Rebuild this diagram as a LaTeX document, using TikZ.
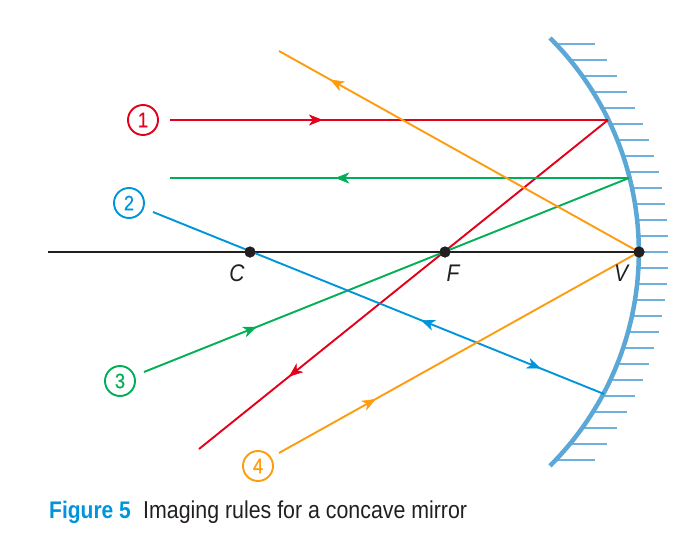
\documentclass[tikz,border=0pt]{standalone}
\usepackage{fontspec}
\setmainfont{Liberation Sans}[FakeStretch=0.875]
\usetikzlibrary{arrows.meta,decorations.markings}
\definecolor{rayred}{HTML}{E2001A}
\definecolor{rayblue}{HTML}{0095DA}
\definecolor{raygreen}{HTML}{00AE55}
\definecolor{rayorange}{HTML}{FD9C10}
\definecolor{mirrorblue}{HTML}{5BA7D6}
\definecolor{hashblue}{HTML}{6DB1DC}
\definecolor{inkblack}{HTML}{231F20}
\tikzset{
  ray/.style={line width=1.9pt},
  tipat/.style={postaction={decorate,decoration={markings,mark=at position #1 with {\arrow[line width=0.6pt]{Stealth[length=14pt,width=11pt,inset=4pt]}}}}},
  backtipat/.style={postaction={decorate,decoration={markings,mark=at position #1 with {\arrowreversed[line width=0.6pt]{Stealth[length=14pt,width=11pt,inset=4pt]}}}}},
  numcircle/.style={circle,draw,line width=1.9pt,minimum size=30pt,inner sep=0pt,font=\fontsize{21}{21}\selectfont\addfontfeatures{FakeBold=0.5}},
  ptdot/.style={circle,fill=inkblack,minimum size=11pt,inner sep=0pt},
  ptlabel/.style={text=inkblack,inner sep=0pt,font=\fontsize{24}{24}\selectfont\itshape},
  hash/.style={hashblue,line width=1.5pt},
  caption/.style={inner sep=0pt,anchor=base west}
}
\begin{document}
\begin{tikzpicture}[x=1pt,y=-1pt]
\useasboundingbox (0,0) rectangle (683,546);
% numbered labels
\node[numcircle,rayred,text=rayred] (n1) at (143,120) {1};
\node[numcircle,rayblue,text=rayblue] (n2) at (129,203) {2};
\node[numcircle,raygreen,text=raygreen] (n3) at (120,381) {3};
\node[numcircle,rayorange,text=rayorange] (n4) at (258,466) {4};
% free ends and mirror points
\coordinate (r1a) at (170,120);
\coordinate (r1b) at (608,120);
\coordinate (r1c) at (199,449);
\coordinate (g1a) at (144,372);
\coordinate (g1b) at (629,178);
\coordinate (g1c) at (170,178);
\coordinate (b1a) at (153,212);
\coordinate (b1b) at (604,394);
\coordinate (o1a) at (279,453);
\coordinate (o1c) at (279,51);
\coordinate (axisL) at (48,252);
\coordinate (Mtop) at (550,38);
% hash marks
\foreach \dy/\xr in {0/668,16/668,32/667,48/665,64/662,80/658.5,96/654,112/648.5,128/642.5,144/635,160/627,176/617,192/606.5,208/594.7}{
  \pgfmathsetmacro{\xl}{337+302*sqrt(1-(\dy/302)*(\dy/302))}
  \draw[hash] (\xl,252-\dy) -- (\xr,252-\dy);
  \draw[hash] (\xl,252+\dy) -- (\xr,252+\dy);
}
% mirror
\draw[mirrorblue,line width=4.5pt] (Mtop) arc[start angle=-45.1,end angle=45.1,radius=302];
% axis and points
\node[ptdot] (C) at (250,252) {};
\node[ptdot] (F) at (445,252) {};
\node[ptdot] (V) at (639,252) {};
\draw[inkblack,line width=1.8pt] (axisL) -- (V.center);
% rays
\draw[ray,rayred,tipat=0.349] (r1a) -- (r1b);
\draw[ray,rayred,tipat=0.78] (r1b) -- (r1c);
\draw[ray,raygreen,tipat=0.233] (g1a) -- (g1b);
\draw[ray,raygreen,tipat=0.64] (g1b) -- (g1c);
\draw[ray,rayblue,tipat=0.86,backtipat=0.594] (b1a) -- (b1b);
\draw[ray,rayorange,tipat=0.269] (o1a) -- (V.center);
\draw[ray,rayorange,tipat=0.858] (V.center) -- (o1c);
% redraw points above rays
\node[ptdot] at (C) {};
\node[ptdot] at (F) {};
\node[ptdot] at (V) {};
% point labels
\node[ptlabel] (Cl) at (237,273) {C};
\node[ptlabel] (Fl) at (453,273) {F};
\node[ptlabel] (Vl) at (621,273) {V};
% caption
\node[caption,text=rayblue,font=\fontsize{24}{24}\selectfont\bfseries] (figno) at (49,518) {Figure 5};
\node[caption,text=inkblack,font=\fontsize{24.4}{24.4}\selectfont] (figcap) at (143,518) {Imaging rules for a concave mirror};
\end{tikzpicture}
\end{document}
